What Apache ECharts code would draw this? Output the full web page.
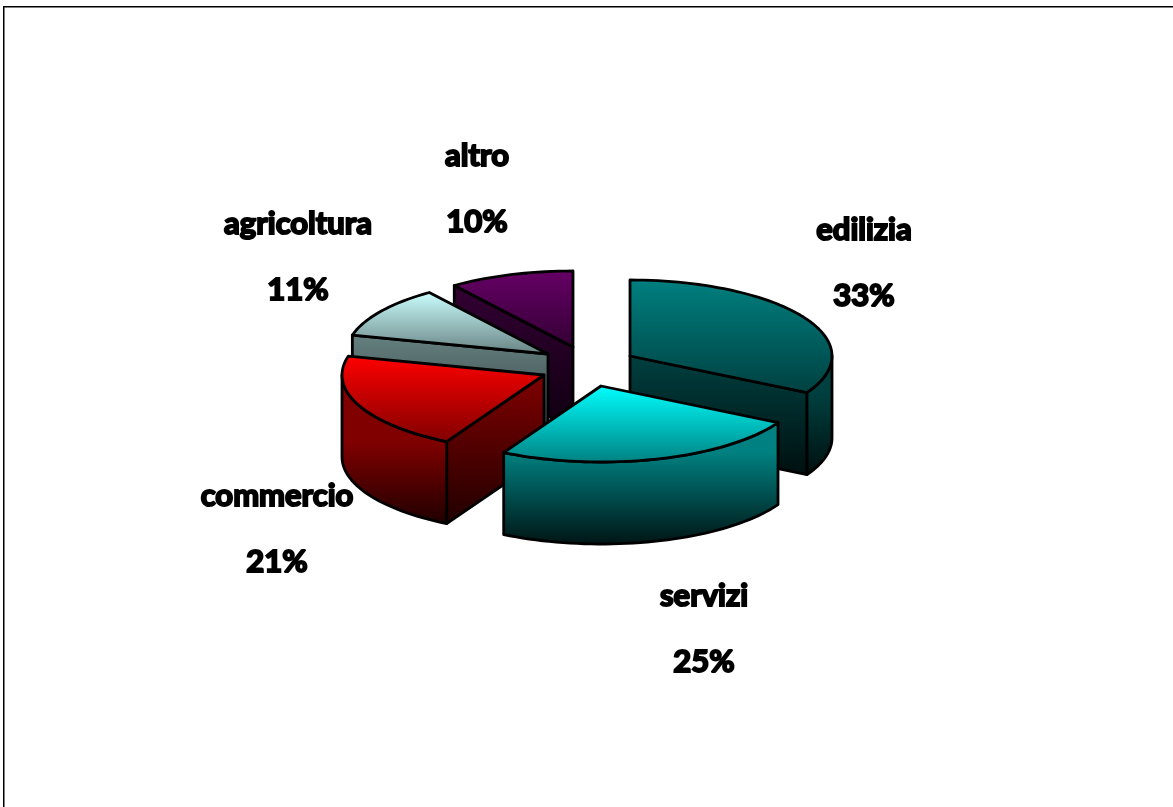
<!DOCTYPE html>
<html>
<head>
<meta charset="utf-8">
<style>html,body{margin:0;padding:0;background:#fff}#c{width:1173px;height:807px}</style>
<script src="https://cdn.jsdelivr.net/npm/echarts@6/dist/echarts.min.js"></script>
</head>
<body>
<div id="c"></div>
<script>
const categories = ['edilizia', 'servizi', 'commercio', 'agricoltura', 'altro'];
const shares = [33, 25, 21, 11, 10];

// Projection and layout of the exploded 3D pie
const RX = 202, RY = 76, DEPTH = 82;
const apexes = [[630, 356], [601, 386], [544, 375], [548, 354], [573, 347]];
const labelCentres = [[864, 263], [704, 629], [277, 529], [298, 257], [477, 189]];
const paintRank = [2, 4, 3, 1, 0];
const topColours = [['#008080', '#004040'], ['#00ffff', '#008080'], ['#ff0000', '#800000'], ['#ccffff', '#668080'], ['#660066', '#330033']];
const sideColours = [['#004040', '#000f0f'], ['#008080', '#001515'], ['#800000', '#200000'], ['#668080', '#334040'], ['#330033', '#0f000f']];

const total = shares.reduce((a, b) => a + b, 0);
const grad = c => new echarts.graphic.LinearGradient(0, 0, 0, 1, [{offset: 0, color: c[0]}, {offset: 1, color: c[1]}]);
const gradY = (c, y0, y1) => new echarts.graphic.LinearGradient(0, y0, 0, y1, [{offset: 0, color: c[0]}, {offset: 1, color: c[1]}], true);
const rim = (ap, deg) => {
  const r = deg * Math.PI / 180;
  return [ap[0] + RX * Math.sin(r), ap[1] - RY * Math.cos(r)];
};
const arc = (ap, a, b) => {
  const pts = [], n = Math.max(2, Math.ceil((b - a) / 2));
  for (let i = 0; i <= n; i++) pts.push(rim(ap, a + (b - a) * i / n));
  return pts;
};
const wallVisible = (ap, edge, mid) => {
  const dx = edge[0] - ap[0];
  if (Math.abs(dx) < 1) return false;
  const yAt = ap[1] + (edge[1] - ap[1]) * (mid[0] - ap[0]) / dx;
  return mid[1] < yAt;
};

function renderSlice(params, api) {
  const i = params.dataIndex, share = api.value(0);
  let before = 0;
  for (let k = 0; k < i; k++) before += shares[k];
  const a = before / total * 360, b = (before + share) / total * 360;
  const ap = apexes[i], midRim = rim(ap, (a + b) / 2);
  const line = {stroke: '#000', lineWidth: 2.8, lineJoin: 'round'};
  const z = paintRank[i] * 10;
  const children = [];
  const face = (pts, fill, zz) => children.push({
    type: 'polygon', z2: z + zz, shape: {points: pts},
    style: Object.assign({fill: fill}, line)
  });
  [a, b].forEach(deg => {
    const e = rim(ap, deg);
    if (wallVisible(ap, e, midRim)) {
      face([ap, e, [e[0], e[1] + DEPTH], [ap[0], ap[1] + DEPTH]], grad(sideColours[i]), 1);
    }
  });
  const fa = Math.max(a, 90), fb = Math.min(b, 270);
  if (fb > fa) {
    const upper = arc(ap, fa, fb);
    const lower = upper.map(p => [p[0], p[1] + DEPTH]).reverse();
    const y0 = Math.max(upper[0][1], upper[upper.length - 1][1]);
    const y1 = Math.max.apply(null, lower.map(p => p[1]));
    face(upper.concat(lower), gradY(sideColours[i], y0, y1), 2);
  }
  face([ap].concat(arc(ap, a, b)), grad(topColours[i]), 3);
  children.push({
    type: 'text', z2: 100,
    style: {
      text: api.value(1) + '\n' + share + '%',
      x: labelCentres[i][0], y: labelCentres[i][1],
      align: 'center', verticalAlign: 'middle',
      font: '700 31px Lato, sans-serif',
      lineHeight: 66, fill: '#000', stroke: '#000', lineWidth: 2
    }
  });
  return {type: 'group', children: children};
}

const chart = echarts.init(document.getElementById('c'), null, {renderer: 'canvas'});
chart.setOption({
  animation: false,
  backgroundColor: '#fff',
  graphic: [
    {type: 'rect', shape: {x: 3, y: 6, width: 1170, height: 1.5}, style: {fill: '#000'}},
    {type: 'rect', shape: {x: 3, y: 6, width: 1.5, height: 801}, style: {fill: '#000'}}
  ],
  series: [{
    type: 'custom',
    coordinateSystem: 'none',
    renderItem: renderSlice,
    data: categories.map((c, i) => [shares[i], c])
  }]
});
</script>
</body>
</html>
